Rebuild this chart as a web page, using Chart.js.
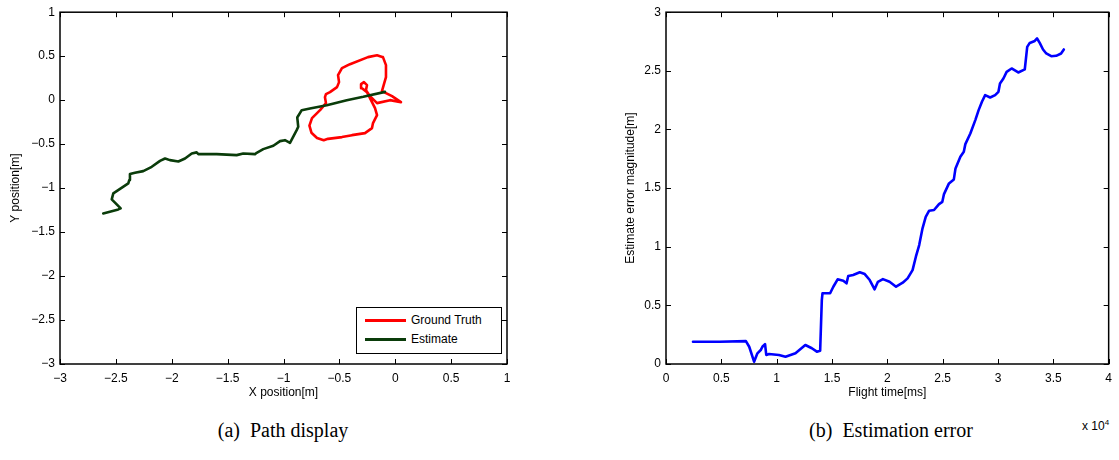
<!DOCTYPE html>
<html>
<head>
<meta charset="utf-8">
<script src="https://cdn.jsdelivr.net/npm/chart.js@4.4.1/dist/chart.umd.min.js"></script>
<style>
  body { margin: 0; width: 1119px; height: 460px; background: #fff; position: relative; overflow: hidden; font-family: "Liberation Sans", Arial, sans-serif; }
  canvas { position: absolute; top: 0; }
  #pathChart { left: 0; }
  #errorChart { left: 560px; }
  .caption { position: absolute; top: 419px; font-family: "Liberation Serif", "DejaVu Serif", serif; font-size: 20px; color: #000; text-align: center; width: 400px; }
  #legend { position: absolute; left: 356px; top: 307px; width: 144px; height: 45px; border: 1px solid #000; background: #fff; font-size: 12px; }
  .row { position: absolute; left: 0; height: 14px; line-height: 14px; }
  .swatch { position: absolute; left: 8px; top: 6px; width: 41px; height: 3px; }
  .txt { position: absolute; left: 54px; top: 0; white-space: nowrap; }
  #expo { position: absolute; left: 1082px; top: 418px; font-size: 12px; }
  #expo sup { font-size: 8px; }
</style>
</head>
<body>
<canvas id="pathChart" width="540" height="404"></canvas>
<canvas id="errorChart" width="559" height="404"></canvas>
<div id="legend"></div>
<div id="expo">x 10<sup>4</sup></div>
<div class="caption" style="left:83px">(a)&nbsp; Path display</div>
<div class="caption" style="left:691px">(b)&nbsp; Estimation error</div>
<script>
// setup - path display
const groundTruthX = [-0.110, -0.163, -0.244, -0.405, -0.477, -0.512, -0.503, -0.521, -0.584, -0.620, -0.629, -0.620, -0.673, -0.745, -0.768, -0.750, -0.700, -0.640, -0.602, -0.477, -0.387, -0.271, -0.208, -0.199, -0.163, -0.181, -0.208, -0.253, -0.298, -0.306, -0.280, -0.253, -0.262, -0.226, -0.163, -0.047, 0.051, -0.029, -0.119, -0.101, -0.083, -0.083, -0.110];
const groundTruthY = [0.489, 0.511, 0.489, 0.409, 0.364, 0.284, 0.205, 0.148, 0.091, 0.068, 0.034, -0.034, -0.114, -0.205, -0.290, -0.370, -0.430, -0.455, -0.440, -0.420, -0.398, -0.375, -0.318, -0.261, -0.170, -0.091, -0.023, 0.091, 0.136, 0.182, 0.205, 0.170, 0.114, 0.045, -0.034, 0.000, -0.023, 0.045, 0.102, 0.182, 0.261, 0.398, 0.489];
const estimateX = [-2.613, -2.478, -2.457, -2.537, -2.523, -2.389, -2.380, -2.374, -2.329, -2.255, -2.179, -2.105, -2.060, -2.016, -1.941, -1.881, -1.821, -1.777, -1.762, -1.598, -1.419, -1.360, -1.255, -1.240, -1.181, -1.091, -1.031, -0.987, -0.942, -0.882, -0.868, -0.877, -0.837, -0.763, -0.613, -0.434, -0.286, -0.092];
const estimateY = [-1.288, -1.242, -1.231, -1.128, -1.060, -0.947, -0.909, -0.841, -0.826, -0.807, -0.758, -0.690, -0.663, -0.682, -0.697, -0.663, -0.606, -0.594, -0.614, -0.614, -0.625, -0.606, -0.614, -0.599, -0.557, -0.519, -0.466, -0.455, -0.485, -0.341, -0.303, -0.197, -0.114, -0.094, -0.057, 0.000, 0.038, 0.094];

// setup - estimation error
const flightTime = [2440, 4830, 7220, 7520, 7960, 8260, 8560, 8710, 8950, 9060, 9310, 10200, 10800, 11700, 12590, 13180, 13630, 13930, 14080, 14140, 14830, 15120, 15510, 16020, 16310, 16470, 16910, 17510, 17960, 18410, 18850, 19150, 19600, 20200, 20790, 21390, 21830, 22280, 22580, 22880, 23180, 23470, 23780, 24220, 24670, 24970, 25120, 25570, 26010, 26160, 26600, 26910, 27050, 27500, 27950, 28250, 28550, 28840, 29290, 29740, 30040, 30180, 30490, 30780, 31230, 31830, 32420, 32640, 32870, 33320, 33530, 33770, 34070, 34360, 34810, 35260, 35700, 35950];
const errorMagnitude = [0.19, 0.19, 0.195, 0.147, 0.02, 0.091, 0.119, 0.147, 0.17, 0.077, 0.085, 0.077, 0.062, 0.091, 0.162, 0.134, 0.105, 0.113, 0.545, 0.603, 0.603, 0.659, 0.722, 0.71, 0.688, 0.75, 0.759, 0.782, 0.767, 0.716, 0.637, 0.701, 0.724, 0.701, 0.659, 0.693, 0.73, 0.801, 0.915, 1.014, 1.157, 1.255, 1.307, 1.313, 1.364, 1.383, 1.449, 1.54, 1.574, 1.668, 1.767, 1.809, 1.875, 1.966, 2.08, 2.165, 2.236, 2.293, 2.273, 2.293, 2.321, 2.392, 2.435, 2.491, 2.52, 2.486, 2.512, 2.704, 2.738, 2.755, 2.776, 2.738, 2.682, 2.648, 2.625, 2.628, 2.648, 2.682];

const pathTicks = [-3, -2.5, -2, -1.5, -1, -0.5, 0, 0.5, 1];
const timeTicks = [0, 0.5, 1, 1.5, 2, 2.5, 3, 3.5, 4];   // x 10^4
const errorTicks = [0, 0.5, 1, 1.5, 2, 2.5, 3];

const zip = (xs, ys) => xs.map((v, i) => ({ x: v, y: ys[i] }));
const minus = v => String(v).replace('-', '\u2212');
const font = { family: '"Liberation Sans", Arial, sans-serif', size: 12 };

// matlab style box with inward ticks on all four sides
const boxTicks = {
  id: 'boxTicks',
  afterDraw(chart) {
    const { ctx, chartArea: a, scales: { x, y } } = chart;
    ctx.save();
    ctx.strokeStyle = '#000';
    ctx.lineWidth = 1;
    ctx.beginPath();
    x.ticks.forEach(t => {
      const px = Math.round(x.getPixelForValue(t.value)) + 0.5;
      ctx.moveTo(px, a.bottom); ctx.lineTo(px, a.bottom - 5);
      ctx.moveTo(px, a.top); ctx.lineTo(px, a.top + 5);
    });
    y.ticks.forEach(t => {
      const py = Math.round(y.getPixelForValue(t.value)) + 0.5;
      ctx.moveTo(a.left, py); ctx.lineTo(a.left + 5, py);
      ctx.moveTo(a.right, py); ctx.lineTo(a.right - 5, py);
    });
    ctx.stroke();
    ctx.lineWidth = 1.5;
    ctx.strokeRect(a.left, a.top, a.right - a.left, a.bottom - a.top);
    ctx.restore();
  }
};

const axis = (min, max, step, labels, title, isX, fitSize, titlePad) => ({
  type: 'linear',
  min, max,
  afterBuildTicks: s => { s.ticks = labels.map(v => ({ value: v * step })); },
  afterFit: s => { if (isX) s.height = fitSize; else s.width = fitSize; },
  grid: { display: false, drawTicks: false },
  border: { display: false },
  ticks: {
    color: '#000', font, padding: isX ? 7 : 5,
    callback: v => minus(Math.round(v / step * 100) / 100)
  },
  title: { display: true, text: title, color: '#000', font, padding: titlePad }
});

const lineStyle = { showLine: true, pointRadius: 0, borderWidth: 2.6, tension: 0, borderJoinStyle: 'round', borderCapStyle: 'round', fill: false };

// config - path display
const pathData = {
  datasets: [
    { label: 'Ground Truth', data: zip(groundTruthX, groundTruthY), borderColor: 'rgb(255, 0, 0)', order: 1, ...lineStyle },
    { label: 'Estimate', data: zip(estimateX, estimateY), borderColor: 'rgb(10, 60, 10)', order: 0, ...lineStyle }
  ]
};

const pathChart = new Chart(document.getElementById('pathChart'), {
  type: 'scatter',
  data: pathData,
  options: {
    responsive: false,
    animation: false,
    layout: { padding: { left: 0, top: 12, right: 33, bottom: 0 } },
    plugins: { legend: { display: false }, tooltip: { enabled: false } },
    scales: {
      x: axis(-3, 1, 1, pathTicks, 'X position[m]', true, 40, { top: 4, bottom: 4 }),
      y: axis(-3, 1, 1, pathTicks, 'Y position[m]', false, 60, { top: 8, bottom: 4 })
    }
  },
  plugins: [boxTicks]
});

// config - estimation error
const errorChart = new Chart(document.getElementById('errorChart'), {
  type: 'scatter',
  data: {
    datasets: [
      { label: 'Error', data: zip(flightTime, errorMagnitude), borderColor: 'rgb(0, 0, 255)', ...lineStyle }
    ]
  },
  options: {
    responsive: false,
    animation: false,
    layout: { padding: { left: 56, top: 12, right: 5, bottom: 0 } },
    plugins: { legend: { display: false }, tooltip: { enabled: false } },
    scales: {
      x: axis(0, 40000, 10000, timeTicks, 'Flight time[ms]', true, 40, { top: 4, bottom: 4 }),
      y: axis(0, 3, 1, errorTicks, 'Estimate error magnitude[m]', false, 50, { top: 7, bottom: 4 })
    }
  },
  plugins: [boxTicks]
});

// legend box inside the path plot
const legend = document.getElementById('legend');
pathData.datasets.forEach((ds, i) => {
  const row = document.createElement('div');
  row.className = 'row';
  row.style.top = (5 + i * 19) + 'px';
  row.innerHTML = '<div class="swatch" style="background:' + ds.borderColor + '"></div><span class="txt">' + ds.label + '</span>';
  legend.appendChild(row);
});
</script>
</body>
</html>
